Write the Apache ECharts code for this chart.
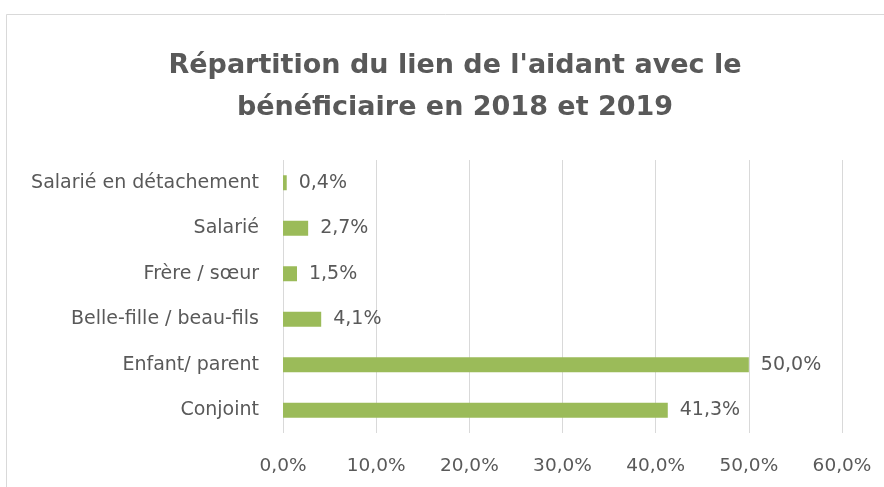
<!DOCTYPE html>
<html>
<head>
<meta charset="utf-8">
<script src="https://cdn.jsdelivr.net/npm/echarts@6/dist/echarts.min.js"></script>
<style>
html,body{margin:0;padding:0;background:#fff;}
#chart{width:884px;height:487px;}
</style>
</head>
<body>
<div id="chart"></div>
<script>
// données du graphique (de bas en haut)
var categories=['Conjoint','Enfant/ parent','Belle-fille / beau-fils','Frère / sœur','Salarié','Salarié en détachement'];
var valeurs=[41.3,50.0,4.1,1.5,2.7,0.4];
var xTicks=[0,10,20,30,40,50,60];

var police='DejaVu Sans';
var chart=echarts.init(document.getElementById('chart'));
var options={
    backgroundColor:'#fff',
    title:{
        text:"Répartition du lien de l'aidant avec le\nbénéficiaire en 2018 et 2019",
        left:450,
        top:40,
        textAlign:'center',
        textStyle:{fontFamily:police,fontSize:27,fontWeight:'bold',color:'#595959',lineHeight:42}
    },
    graphic:[{
        type:'rect',
        shape:{x:6.5,y:14.5,width:900,height:500},
        style:{fill:'none',stroke:'#d9d9d9',lineWidth:1}
    }],
    grid:{left:283,right:42,top:160,bottom:54,containLabel:false},
    xAxis:{
        type:'value',
        min:xTicks[0],
        max:xTicks[xTicks.length-1],
        interval:10,
        axisLine:{show:false},
        axisTick:{show:false},
        splitLine:{lineStyle:{color:'#d9d9d9',width:1}},
        axisLabel:{
            color:'#595959',fontSize:18.5,fontFamily:police,margin:24,
            formatter:function(v){return v.toFixed(1).replace('.',',')+'%';}
        }
    },
    yAxis:{
        type:'category',
        data:categories,
        axisLine:{show:false},
        axisTick:{show:false},
        axisLabel:{color:'#595959',fontSize:19,fontFamily:police,margin:24}
    },
    series:[{
        type:'bar',
        data:valeurs,
        barWidth:15,
        itemStyle:{color:'#9bbb59'},
        label:{
            show:true,
            position:'right',
            distance:12,
            color:'#595959',
            fontSize:19,
            fontFamily:police,
            formatter:function(p){return p.value.toFixed(1).replace('.',',')+'%';}
        }
    }]
};
chart.setOption(options);
</script>
</body>
</html>
